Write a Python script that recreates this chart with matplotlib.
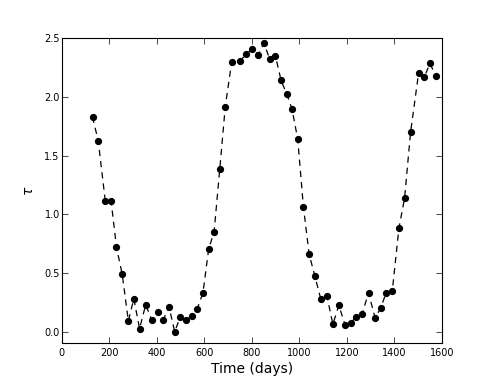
import matplotlib
matplotlib.use("Agg")
import matplotlib.pyplot as plt

days = [129, 153, 183, 207, 230, 254, 280, 303, 327, 353, 378, 403, 427, 451, 475,
        499, 523, 547, 570, 594, 618, 641, 665, 688, 715, 752, 777, 801, 827, 851,
        875, 899, 923, 947, 969, 993, 1017, 1041, 1065, 1090, 1116, 1141, 1166, 1193,
        1217, 1240, 1264, 1291, 1319, 1343, 1365, 1391, 1419, 1443, 1468, 1502, 1526,
        1550, 1575]
tau = [1.830, 1.626, 1.111, 1.117, 0.719, 0.489, 0.091, 0.281, 0.026, 0.230, 0.100,
       0.168, 0.100, 0.213, 0.000, 0.128, 0.097, 0.136, 0.196, 0.330, 0.702, 0.853,
       1.390, 1.918, 2.296, 2.310, 2.367, 2.404, 2.361, 2.458, 2.322, 2.350, 2.140,
       2.023, 1.896, 1.640, 1.063, 0.660, 0.475, 0.279, 0.304, 0.063, 0.225, 0.054,
       0.077, 0.128, 0.151, 0.330, 0.117, 0.205, 0.330, 0.344, 0.881, 1.140, 1.697,
       2.205, 2.171, 2.285, 2.174]

fig = plt.figure(figsize=(4.91, 3.82), dpi=100)
ax = fig.add_axes([0.126, 0.101, 0.774, 0.799])
ax.plot(days, tau, color="black", linestyle="--", dashes=(5, 4), linewidth=0.9,
        marker="o", markersize=4.2, markerfacecolor="black", markeredgecolor="black")
ax.set_xlim(0, 1600)
ax.set_ylim(-0.1, 2.5)
ax.set_xticks(range(0, 1601, 200))
ax.set_yticks([0.0, 0.5, 1.0, 1.5, 2.0, 2.5])
ax.set_yticklabels(["0.0", "0.5", "1.0", "1.5", "2.0", "2.5"])
ax.tick_params(direction="in", top=True, right=True, length=4, width=0.5,
               labelsize=7)
ax.tick_params(axis="y", pad=1.5)
ax.tick_params(axis="x", pad=3)
for s in ax.spines.values():
    s.set_linewidth(0.8)
ax.set_xlabel("Time (days)", fontsize=10, labelpad=3)
ax.set_ylabel(r"$\tau$", fontsize=10, labelpad=6)
fig.savefig("out.png", dpi=100)
